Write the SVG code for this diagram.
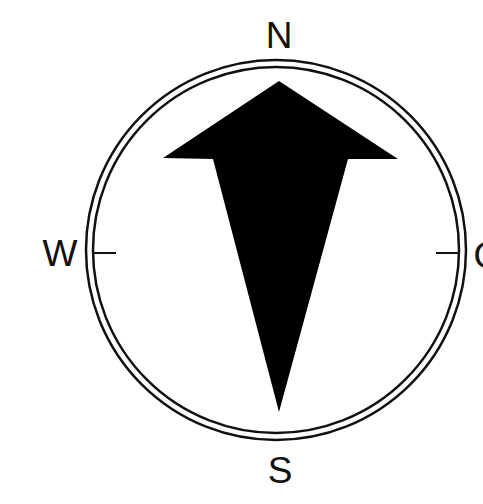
<svg xmlns="http://www.w3.org/2000/svg" width="483" height="504" viewBox="0 0 483 504">
<style>
.ring{fill:none;stroke:#111;stroke-width:2.5}
.tick{stroke:#111;stroke-width:2}
.lbl{font-family:"Liberation Sans",Arial,sans-serif;font-size:37px;fill:#111;text-anchor:middle}
</style>
<rect width="483" height="504" fill="#fff"/>
<g id="compass">
<circle class="ring" cx="276" cy="250" r="190"/>
<circle class="ring" cx="276" cy="250" r="183"/>
</g>
<g id="ticks">
<line class="tick" x1="92" y1="253" x2="116" y2="253"/>
<line class="tick" x1="436" y1="253" x2="459" y2="253"/>
</g>
<g id="arrow">
<polygon points="279,81 398,159 348,159 279,412 213,159 163,158" fill="#000"/>
</g>
<g id="labels">
<text class="lbl" x="279" y="48">N</text>
<text class="lbl" x="60" y="266">W</text>
<text class="lbl" x="280" y="483">S</text>
<text class="lbl" x="488" y="268">O</text>
</g>
</svg>
